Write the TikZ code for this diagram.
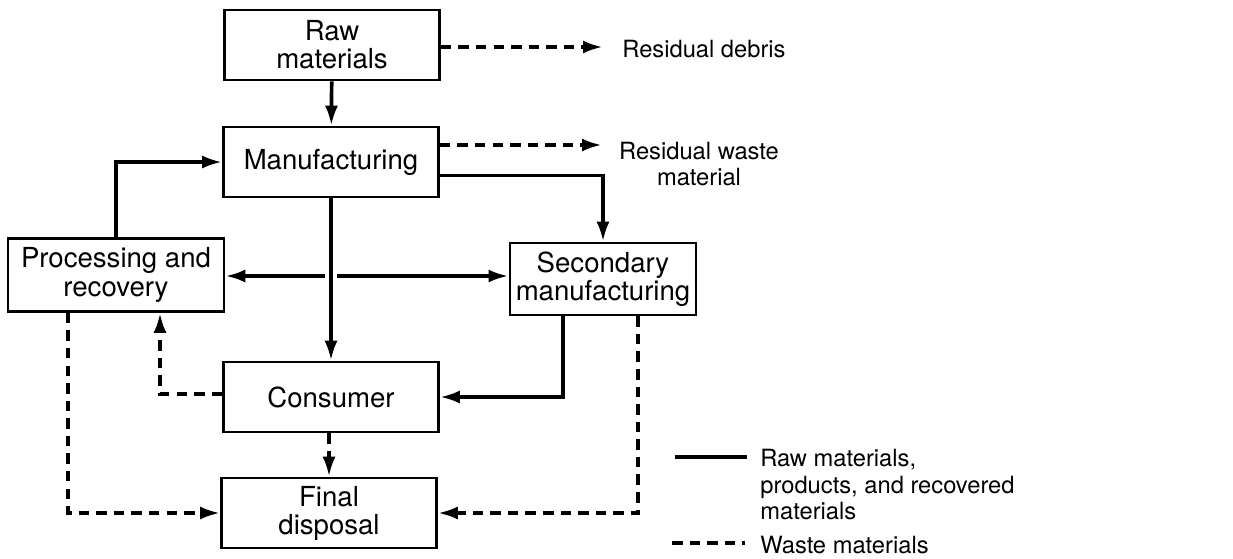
\documentclass[tikz,border=0pt]{standalone}
\usepackage{fontspec}
\setmainfont{TeX Gyre Heros}
\usetikzlibrary{arrows.meta}
\begin{document}
\begin{tikzpicture}[x=0.02cm, y=-0.02cm, font=\fontsize{13.5}{15}\selectfont]
\tikzset{boite/.style={draw, line width=1.5pt, minimum width=4.3cm, minimum height=1.4cm, align=center, font=\fontsize{15.7}{16}\selectfont}}
\tikzset{flux/.style={line width=2.1pt, -{Latex[length=0.4cm, width=0.26cm]}}}
\tikzset{dechet/.style={flux, dash pattern=on 6pt off 4pt}}
\useasboundingbox (0,0) rectangle (1233,558);
\node[boite] (brut) at (332,45) {Raw\\materials};
\node[boite] (fabr) at (331,162) {Manufacturing};
\node[boite, minimum width=4.32cm, minimum height=1.46cm] (recup) at (116,275) {Processing and\\recovery};
\node[boite, minimum width=3.6cm, minimum height=1.44cm] (second) at (603,279) {Secondary\\manufacturing};
\node[boite] (conso) at (331,397) {Consumer};
\node[boite] (final) at (329,513) {Final\\disposal};
\node[anchor=west, inner sep=0pt] (debris) at (622,49) {Residual debris};
\node[align=center] (residu) at (699,164) {Residual waste\\material};
\coordinate (debrisin) at (603,47);
\coordinate (residuin) at (602,145);
\coordinate (split) at (331,276);
\draw[flux] (brut) -- (fabr);
\draw[dechet] (brut.east |- debrisin) -- (debrisin);
\draw[dechet] (fabr.east |- residuin) -- (residuin);
\draw[flux] ([yshift=-0.27cm]fabr.east) -| (second.north);
\draw[flux] (recup.north) |- (fabr.west);
\draw[flux] (fabr) -- (conso);
\draw[flux, shorten <=0.12cm] (split) -- (recup.east |- split);
\draw[flux, shorten <=0.12cm] (split) -- (second.west |- split);
\draw[flux] ([xshift=-0.8cm]second.south) |- (conso.east);
\draw[dechet] ([xshift=0.7cm]second.south) |- (final.east);
\draw[dechet] ([yshift=0.06cm]conso.west) -| ([xshift=0.88cm]recup.south);
\draw[dechet] ([xshift=-0.96cm]recup.south) |- (final.west);
\draw[dechet] (conso.south -| final.north) -- (final.north);
% legende
\node[anchor=north west, align=left, inner sep=0pt] (legflux) at (760,449) {Raw materials,\\products, and recovered\\materials};
\node[anchor=west, inner sep=0pt] (legdechet) at (760,545) {Waste materials};
\coordinate (lf) at (675,457);
\coordinate (ld) at (672,543);
\draw[line width=2.1pt, shorten >=0.26cm] (lf) -- (lf -| legflux.west);
\draw[line width=2.1pt, dash pattern=on 6pt off 4pt, shorten >=0.3cm] (ld) -- (ld -| legdechet.west);
\end{tikzpicture}
\end{document}
